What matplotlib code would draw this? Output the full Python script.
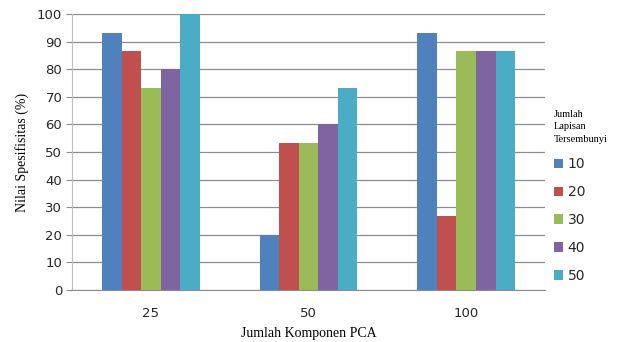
import numpy as np
import matplotlib.pyplot as plt

# Spesifisitas per jumlah komponen PCA dan jumlah lapisan tersembunyi
komponen = ['25', '50', '100']
lapisan = ['10', '20', '30', '40', '50']
spesifisitas = {
    '10': [93.3, 20.0, 93.3],
    '20': [86.7, 53.3, 26.7],
    '30': [73.3, 53.3, 86.7],
    '40': [80.0, 60.0, 86.7],
    '50': [100.0, 73.3, 86.7],
}
warna = ['#4F81BD', '#C0504D', '#9BBB59', '#8064A2', '#4BACC6']

fig = plt.figure(figsize=(6.22, 3.42), dpi=100)
ax = fig.add_axes([0.1158, 0.152, 0.7605, 0.807])

x = np.arange(len(komponen))
lebar = 0.124
for i, lp in enumerate(lapisan):
    ax.bar(x + (i - 2) * lebar, spesifisitas[lp], lebar, color=warna[i],
           label=lp, zorder=3)

ax.set_xlim(-0.5, 2.5)
ax.set_ylim(0, 100)
ax.set_yticks(range(0, 101, 10))
ax.set_xticks(x)
ax.set_xticklabels(komponen)
ax.yaxis.grid(True, color='#8c8c8c', linewidth=0.9, zorder=0)
ax.set_axisbelow(True)

for s in ['top', 'right']:
    ax.spines[s].set_visible(False)
ax.spines['left'].set_color('#bfbfbf')
ax.spines['bottom'].set_color('#8c8c8c')
ax.tick_params(axis='y', length=4, color='#8c8c8c', labelsize=9.5,
               labelcolor='#262626', pad=3)
ax.tick_params(axis='x', length=0, labelsize=9.5, labelcolor='#262626', pad=12)

ax.set_ylabel('Nilai Spesifisitas (%)', family='Liberation Serif', fontsize=10,
              labelpad=6)
ax.set_xlabel('Jumlah Komponen PCA', family='Liberation Serif', fontsize=10,
              labelpad=5)

leg = fig.legend(loc='upper left', bbox_to_anchor=(0.879, 0.698),
                 title='Jumlah\nLapisan\nTersembunyi', frameon=False,
                 fontsize=10, handlelength=0.7, handleheight=0.7,
                 handletextpad=0.3, labelspacing=1.0, borderpad=0,
                 alignment='left',
                 title_fontproperties={'family': 'Liberation Serif', 'size': 7.5})
leg.get_title().set_linespacing(1.45)
for t in leg.get_texts():
    t.set_color('#262626')

fig.savefig('out.png', dpi=100)
